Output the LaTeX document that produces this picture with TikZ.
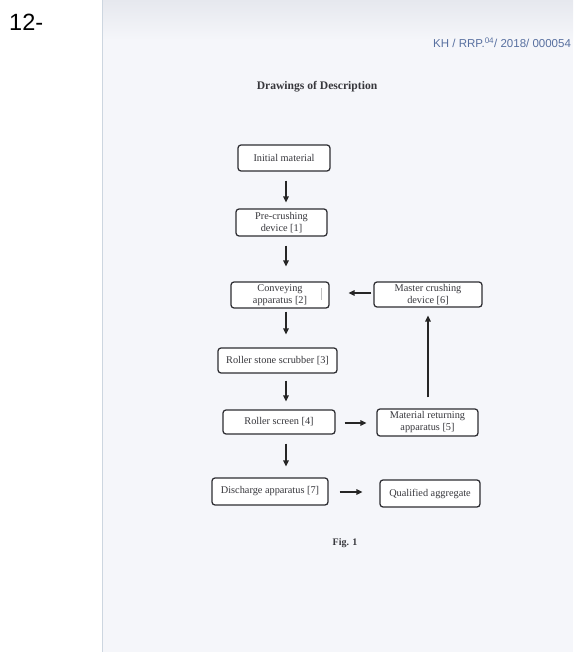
\documentclass[tikz,border=0pt]{standalone}
\usepackage{fontspec}
\setmainfont{Liberation Serif}
\newfontfamily\hdrfont{Liberation Sans}
\usetikzlibrary{arrows.meta}
\definecolor{pagebg}{RGB}{245,246,250}
\definecolor{pagetop}{RGB}{230,232,238}
\definecolor{pageedge}{RGB}{205,214,224}
\definecolor{ink}{RGB}{45,45,50}
\definecolor{txt}{RGB}{55,55,60}
\definecolor{hdrblue}{RGB}{88,112,160}
\tikzset{
  box/.style={draw=ink, line width=1.25pt, rounded corners=3pt, fill=white,
    inner sep=1pt, align=center, text=txt, font=\fontsize{10.3}{12}\selectfont},
  arr/.style={draw=black!85, line width=1.3pt, -{Triangle[length=6pt,width=5.5pt]}},
}
\begin{document}
\begin{tikzpicture}[x=1pt,y=-1pt]
\useasboundingbox (0,0) rectangle (573,653);
\fill[white] (0,0) rectangle (573,653);
\fill[pagebg] (102,0) rectangle (573,652);
\shade[top color=pagetop, bottom color=pagebg] (102,0) rectangle (573,40);
\draw[pageedge, line width=1pt] (102.5,0) -- (102.5,652);

\node[font=\hdrfont\fontsize{23.5}{24}\selectfont, anchor=west, inner sep=0pt] (num) at (9,22) {12-};
\node[font=\hdrfont\fontsize{11.5}{12}\selectfont, text=hdrblue, anchor=west, inner sep=0pt] (hdr) at (433,43)
  {KH / RRP.\textsuperscript{04}/ 2018/ 000054};
\node[font=\bfseries\fontsize{11.6}{13}\selectfont, text=txt] (title) at (317,87) {Drawings of Description};

\node[box, minimum width=92pt, minimum height=26pt] (init) at (284,158) {Initial material};
\node[box, minimum width=91pt, minimum height=27pt] (pre) at (281.5,222.5) {Pre-crushing\\device [1]};
\node[box, minimum width=98pt, minimum height=26pt] (conv) at (280,295) {Conveying\\apparatus [2]};
\node[box, minimum width=108pt, minimum height=25pt] (master) at (428,294.5) {Master crushing\\device [6]};
\node[box, minimum width=119pt, minimum height=25pt] (scrub) at (277.5,360.5) {Roller stone scrubber [3]};
\node[box, minimum width=112pt, minimum height=24pt] (screen) at (279,422) {Roller screen [4]};
\node[box, minimum width=101pt, minimum height=27pt] (ret) at (427.5,422.5) {Material returning\\apparatus [5]};
\node[box, minimum width=116pt, minimum height=27pt] (disch) at (270,491.5) {Discharge apparatus [7]};
\node[box, minimum width=100pt, minimum height=27pt] (qual) at (430,493.5) {Qualified aggregate};

\draw[black!25, line width=0.6pt] (321.5,288) -- (321.5,300);

\node[font=\bfseries\fontsize{10}{12}\selectfont, text=txt] (fig) at (345,543) {Fig. 1};

\coordinate (axis) at (286,0);
\draw[arr, shorten <=9pt, shorten >=6pt] (init.south -| axis) -- (pre.north -| axis);
\draw[arr, shorten <=9pt, shorten >=15pt] (pre.south -| axis) -- (conv.north -| axis);
\draw[arr, shorten <=3pt, shorten >=13pt] (conv.south -| axis) -- (scrub.north -| axis);
\draw[arr, shorten <=7pt, shorten >=8pt] (scrub.south -| axis) -- (screen.north -| axis);
\draw[arr, shorten <=9pt, shorten >=11pt] (screen.south -| axis) -- (disch.north -| axis);

\coordinate (ry1) at (0,293);
\coordinate (ry2) at (0,423);
\coordinate (ry3) at (0,492);
\draw[arr, shorten <=2pt, shorten >=19pt] (master.west |- ry1) -- (conv.east |- ry1);
\draw[arr, shorten <=9pt, shorten >=10pt] (screen.east |- ry2) -- (ret.west |- ry2);
\draw[arr, shorten <=11pt, shorten >=17pt] (disch.east |- ry3) -- (qual.west |- ry3);

\coordinate (up) at (428,0);
\draw[arr, shorten <=11pt, shorten >=8pt] (ret.north -| up) -- (master.south -| up);
\end{tikzpicture}
\end{document}
